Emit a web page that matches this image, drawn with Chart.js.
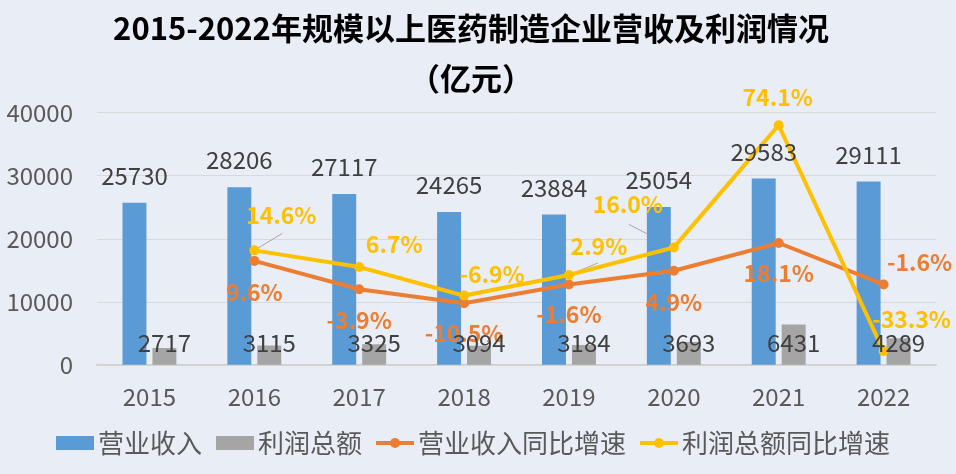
<!DOCTYPE html>
<html>
<head>
<meta charset="utf-8">
<script src="https://cdn.jsdelivr.net/npm/chart.js@4"></script>
<style>
    html, body { margin: 0; padding: 0; background: #E9EDF6; }
    #wrap { width: 956px; height: 474px; }
</style>
</head>
<body>
<div id="wrap"><canvas id="RevenueProfit"></canvas></div>
<script>
const years = ['2015', '2016', '2017', '2018', '2019', '2020', '2021', '2022'];
const revenue = [25730, 28206, 27117, 24265, 23884, 25054, 29583, 29111];
const profit = [2717, 3115, 3325, 3094, 3184, 3693, 6431, 4289];
const revenueGrowth = [null, 9.6, -3.9, -10.5, -1.6, 4.9, 18.1, -1.6];
const profitGrowth = [null, 14.6, 6.7, -6.9, 2.9, 16.0, 74.1, -33.3];
const yTicks = [0, 10000, 20000, 30000, 40000];

const FONT = '"Noto Sans CJK SC", "Noto Sans", sans-serif';
const BLUE = '#5B9BD5', GRAY = '#A5A5A5', ORANGE = '#ED7D31', YELLOW = '#FFC000';

/*----------------------------------------------------------------*/
// legend icons: 51px wide canvas, icon sits in the right 38px
function legendIcon(color, kind) {
    const c = document.createElement('canvas');
    c.width = 51;
    c.height = 16;
    const g = c.getContext('2d');
    g.fillStyle = color;
    g.strokeStyle = color;
    if (kind === 'rect') {
        g.fillRect(13, 1, 38, 14);
    } else {
        g.lineWidth = 4;
        g.beginPath();
        g.moveTo(13, 8);
        g.lineTo(51, 8);
        g.stroke();
        g.beginPath();
        g.arc(32, 8, 5, 0, Math.PI * 2);
        g.fill();
    }
    return c;
}
const icons = [legendIcon(BLUE, 'rect'), legendIcon(GRAY, 'rect'), legendIcon(ORANGE, 'line'), legendIcon(YELLOW, 'line')];

/*----------------------------------------------------------------*/
const valueLabels = {
    id: 'valueLabels',
    beforeDatasetsDraw(chart, args, opts) {
        const { ctx } = chart;
        ctx.save();
        ctx.strokeStyle = '#A6A6A6';
        ctx.lineWidth = 1;
        opts.leaders.forEach(([di, i, dx, dy]) => {
            const pt = chart.getDatasetMeta(di).data[i];
            ctx.beginPath();
            ctx.moveTo(pt.x, pt.y);
            ctx.lineTo(pt.x + dx, pt.y + dy);
            ctx.stroke();
        });
        ctx.restore();
    },
    afterDatasetsDraw(chart, args, opts) {
        const { ctx } = chart;
        ctx.save();
        ctx.textAlign = 'center';
        ctx.textBaseline = 'middle';

        // growth labels
        ctx.font = 'bold 23px ' + FONT;
        [2, 3].forEach(di => {
            const ds = chart.data.datasets[di];
            const meta = chart.getDatasetMeta(di);
            meta.data.forEach((pt, i) => {
                const v = ds.data[i];
                if (v == null) return;
                const [dx, dy] = opts.offsets[di][i];
                ctx.fillStyle = ds.borderColor;
                ctx.fillText(v.toFixed(1) + '%', pt.x + dx, pt.y + dy);
            });
        });

        // bar labels
        ctx.font = '24px ' + FONT;
        ctx.fillStyle = '#404040';
        const base = chart.scales.y.getPixelForValue(0);
        chart.getDatasetMeta(0).data.forEach((bar, i) => {
            ctx.fillText(String(revenue[i]), bar.x, bar.y - 27);
        });
        chart.getDatasetMeta(1).data.forEach((bar, i) => {
            ctx.fillText(String(profit[i]), bar.x, base - 22);
        });
        ctx.restore();
    }
};

/*----------------------------------------------------------------*/
new Chart(document.getElementById('RevenueProfit'), {
    type: 'bar',
    data: {
        labels: years,
        datasets: [
            {
                label: '营业收入',
                data: revenue,
                backgroundColor: BLUE,
                categoryPercentage: 0.571,
                barPercentage: 0.8,
                order: 2
            },
            {
                label: '利润总额',
                data: profit,
                backgroundColor: GRAY,
                categoryPercentage: 0.571,
                barPercentage: 0.8,
                order: 2
            },
            {
                label: '营业收入同比增速',
                data: revenueGrowth,
                type: 'line',
                yAxisID: 'y2',
                borderColor: ORANGE,
                backgroundColor: ORANGE,
                borderWidth: 4,
                pointRadius: 5,
                pointBorderWidth: 0,
                order: 1
            },
            {
                label: '利润总额同比增速',
                data: profitGrowth,
                type: 'line',
                yAxisID: 'y2',
                borderColor: YELLOW,
                backgroundColor: YELLOW,
                borderWidth: 4,
                pointRadius: 5,
                pointBorderWidth: 0,
                order: 0
            }
        ]
    },
    options: {
        responsive: true,
        maintainAspectRatio: false,
        animation: false,
        layout: {
            padding: { left: 6, right: 20, top: 0, bottom: 8 }
        },
        plugins: {
            title: {
                display: true,
                text: ['2015-2022年规模以上医药制造企业营收及利润情况', '（亿元）'],
                color: '#000000',
                font: { family: FONT, size: 31, weight: 'bold', lineHeight: 1.61 },
                padding: { top: 3, bottom: 10 }
            },
            legend: {
                position: 'bottom',
                labels: {
                    usePointStyle: true,
                    pointStyleWidth: 33,
                    padding: 10,
                    color: '#595959',
                    font: { family: FONT, size: 26 },
                    generateLabels: chart => chart.data.datasets.map((ds, i) => ({
                        text: ds.label,
                        pointStyle: icons[i],
                        fillStyle: ds.backgroundColor,
                        strokeStyle: ds.backgroundColor,
                        lineWidth: 0,
                        fontColor: '#595959',
                        hidden: false,
                        datasetIndex: i
                    }))
                }
            },
            tooltip: { enabled: false },
            valueLabels: {
                offsets: {
                    2: [null, [0, 31], [0, 31], [0, 30], [0, 30], [0, 31], [0, 30], [36, -22]],
                    3: [null, [27, -35], [35, -23], [28, -21], [30, -29], [-46, -43], [-1, -28], [28, -32]]
                },
                leaders: [[3, 1, 28, -17], [3, 4, 29, -12], [3, 5, -45, -23]]
            }
        },
        scales: {
            x: {
                grid: { display: false },
                border: { display: true, color: '#D0D0D0', width: 1.5 },
                ticks: {
                    color: '#595959',
                    font: { family: FONT, size: 24 },
                    padding: 9
                }
            },
            y: {
                min: 0,
                max: 40000,
                afterBuildTicks: axis => { axis.ticks = yTicks.map(v => ({ value: v })); },
                afterFit: axis => { axis.width = 91; },
                grid: { color: '#D9D9D9', drawTicks: false },
                border: { display: false },
                ticks: {
                    color: '#595959',
                    font: { family: FONT, size: 24 },
                    padding: 24,
                    callback: v => String(v)
                }
            },
            y2: {
                display: false,
                min: -40,
                max: 80
            }
        }
    },
    plugins: [valueLabels]
});
</script>
</body>
</html>
